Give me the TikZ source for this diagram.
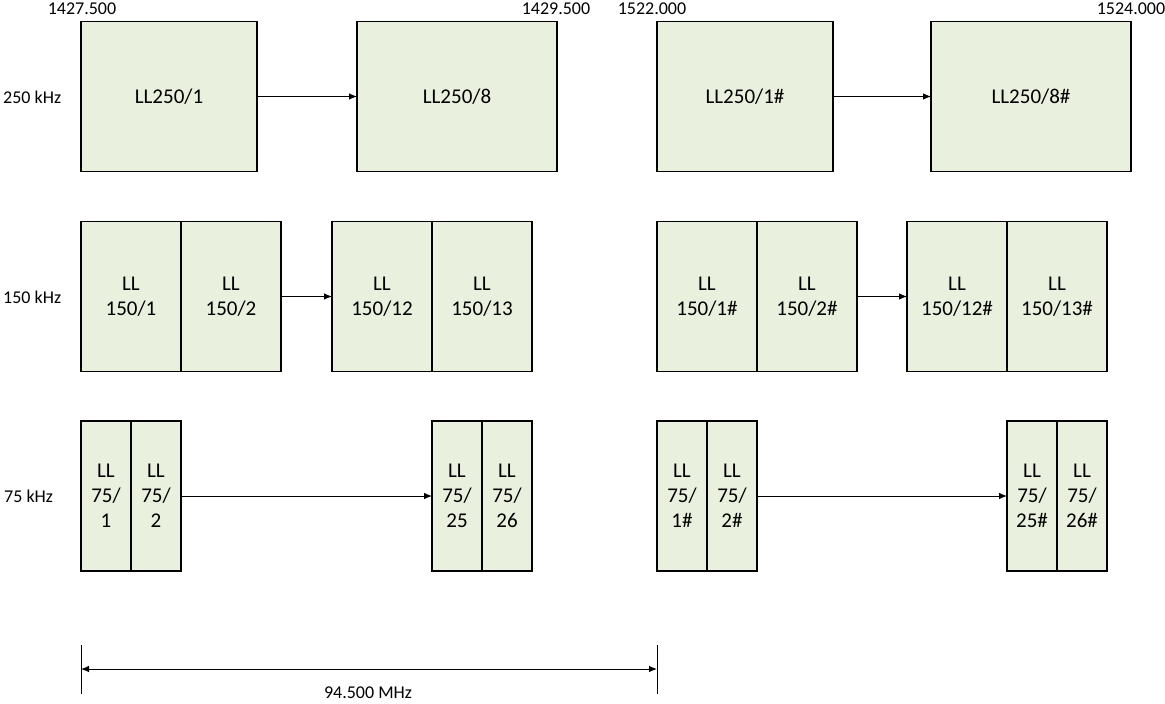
\documentclass[tikz,border=0pt]{standalone}
\usepackage{fontspec}
\setmainfont{Carlito}
\usetikzlibrary{arrows.meta,positioning}
\definecolor{boxGreen}{RGB}{234,240,222}
\tikzstyle{chanBox}=[draw, line width=1.5pt, fill=boxGreen, inner sep=0pt, outer sep=0pt, minimum height=150pt, align=center, font=\fontsize{21}{25}\selectfont]
\tikzstyle{chanTransition}=[line width=0.9pt, -{Latex[length=8pt,width=6.5pt]}]
\tikzstyle{dimTransition}=[line width=0.9pt, {Latex[length=8pt,width=6.5pt]}-{Latex[length=8pt,width=6.5pt]}]
\tikzstyle{freqLabel}=[inner sep=0pt, font=\fontsize{18}{21}\selectfont]

\begin{document}
\begin{tikzpicture}[x=1pt, y=-1pt]
    \useasboundingbox (0,0) rectangle (1165,704);

    % 250 kHz
    \node[chanBox, minimum width=176pt] (ll250a) at (169,96.5) {LL250/1};
    \node[chanBox, minimum width=200pt] (ll250b) at (457,96.5) {LL250/8};
    \node[chanBox, minimum width=176pt] (ll250c) at (745,96.5) {LL250/1\#};
    \node[chanBox, minimum width=200pt] (ll250d) at (1031,96.5) {LL250/8\#};

    % 150 kHz
    \node[chanBox, minimum width=100pt] (ll150a) at (131,296.5) {LL\\150/1};
    \node[chanBox, minimum width=100pt, right=0pt of ll150a] (ll150b) {LL\\150/2};
    \node[chanBox, minimum width=100pt] (ll150c) at (382,296.5) {LL\\150/12};
    \node[chanBox, minimum width=100pt, right=0pt of ll150c] (ll150d) {LL\\150/13};
    \node[chanBox, minimum width=100pt] (ll150e) at (707,296.5) {LL\\150/1\#};
    \node[chanBox, minimum width=100pt, right=0pt of ll150e] (ll150f) {LL\\150/2\#};
    \node[chanBox, minimum width=100pt] (ll150g) at (957,296.5) {LL\\150/12\#};
    \node[chanBox, minimum width=100pt, right=0pt of ll150g] (ll150h) {LL\\150/13\#};

    % 75 kHz
    \node[chanBox, minimum width=50pt] (ll75a) at (106,496) {LL\\75/\\1};
    \node[chanBox, minimum width=50pt, right=0pt of ll75a] (ll75b) {LL\\75/\\2};
    \node[chanBox, minimum width=50pt] (ll75c) at (457,496) {LL\\75/\\25};
    \node[chanBox, minimum width=50pt, right=0pt of ll75c] (ll75d) {LL\\75/\\26};
    \node[chanBox, minimum width=50pt] (ll75e) at (682,496) {LL\\75/\\1\#};
    \node[chanBox, minimum width=50pt, right=0pt of ll75e] (ll75f) {LL\\75/\\2\#};
    \node[chanBox, minimum width=50pt] (ll75g) at (1032,496) {LL\\75/\\25\#};
    \node[chanBox, minimum width=50pt, right=0pt of ll75g] (ll75h) {LL\\75/\\26\#};

    % Labels
    \node[freqLabel] (f1) at (82,9) {1427.500};
    \node[freqLabel] (f2) at (556,9) {1429.500};
    \node[freqLabel] (f3) at (652,9) {1522.000};
    \node[freqLabel] (f4) at (1131,9) {1524.000};
    \node[freqLabel, anchor=west] (r250) at (3,97) {250 kHz};
    \node[freqLabel, anchor=west] (r150) at (3,297) {150 kHz};
    \node[freqLabel, anchor=west] (r75) at (4,496) {75 kHz};

    % Arcs
    \draw[chanTransition] (ll250a) -- (ll250b);
    \draw[chanTransition] (ll250c) -- (ll250d);
    \draw[chanTransition] (ll150b) -- (ll150c);
    \draw[chanTransition] (ll150f) -- (ll150g);
    \draw[chanTransition] (ll75b) -- (ll75c);
    \draw[chanTransition] (ll75f) -- (ll75g);

    % Span
    \coordinate (dimTopA) at (81,645);
    \coordinate (dimBotA) at (81,694);
    \coordinate (dimTopB) at (657,645);
    \coordinate (dimBotB) at (657,694);
    \coordinate (dimA) at (81,669);
    \coordinate (dimB) at (657,669);
    \draw[line width=0.6pt] (dimTopA) -- (dimBotA);
    \draw[line width=0.6pt] (dimTopB) -- (dimBotB);
    \draw[dimTransition] (dimA) -- (dimB);
    \node[freqLabel] (span) at (368,693) {94.500 MHz};

\end{tikzpicture}
\end{document}
